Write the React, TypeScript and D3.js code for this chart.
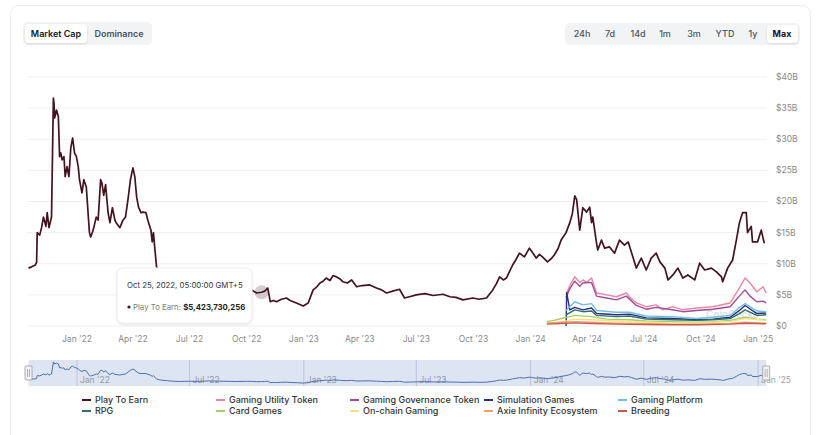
import React from 'react';
import * as d3 from 'd3';

type Pt = [string, number];

// ---------- DATA (values in $ billions) ----------
const viewTabs = ['Market Cap', 'Dominance'];
const timeRanges = ['24h', '7d', '14d', '1m', '3m', 'YTD', '1y', 'Max'];
const xTickDates = [
  '2022-01-01', '2022-04-01', '2022-07-01', '2022-10-01',
  '2023-01-01', '2023-04-01', '2023-07-01', '2023-10-01',
  '2024-01-01', '2024-04-01', '2024-07-01', '2024-10-01', '2025-01-01',
];
const navTickDates = ['2022-01-01', '2022-07-01', '2023-01-01', '2023-07-01', '2024-01-01', '2024-07-01', '2025-01-01'];
const yTicks = [0, 5, 10, 15, 20, 25, 30, 35, 40];

const playToEarn: Pt[] = [
  ['2021-10-15', 9.3], ['2021-10-20', 9.5], ['2021-10-26', 9.8], ['2021-10-28', 10.2], ['2021-10-29', 15.0],
  ['2021-11-02', 14.6], ['2021-11-05', 15.8], ['2021-11-08', 17.5], ['2021-11-12', 16.0], ['2021-11-14', 18.2],
  ['2021-11-17', 15.8], ['2021-11-21', 17.5], ['2021-11-24', 36.6], ['2021-11-25', 35.8], ['2021-11-26', 33.4],
  ['2021-11-29', 34.7], ['2021-12-02', 33.6], ['2021-12-04', 27.2], ['2021-12-06', 27.8], ['2021-12-08', 26.7],
  ['2021-12-11', 27.2], ['2021-12-13', 24.0], ['2021-12-16', 25.6], ['2021-12-19', 24.0], ['2021-12-22', 28.6],
  ['2021-12-25', 30.2], ['2021-12-28', 27.8], ['2021-12-31', 27.2], ['2022-01-03', 25.6], ['2022-01-05', 23.5],
  ['2022-01-09', 21.4], ['2022-01-12', 23.5], ['2022-01-16', 22.3], ['2022-01-21', 15.0], ['2022-01-23', 14.3],
  ['2022-01-27', 15.4], ['2022-02-01', 17.5], ['2022-02-04', 17.0], ['2022-02-08', 23.5], ['2022-02-10', 23.0],
  ['2022-02-13', 21.0], ['2022-02-16', 22.7], ['2022-02-20', 18.2], ['2022-02-23', 16.6], ['2022-02-27', 19.0],
  ['2022-03-03', 17.0], ['2022-03-05', 16.6], ['2022-03-11', 15.8], ['2022-03-16', 17.0], ['2022-03-20', 17.5],
  ['2022-03-24', 20.3], ['2022-03-28', 23.5], ['2022-04-01', 25.4], ['2022-04-04', 24.0], ['2022-04-07', 20.7],
  ['2022-04-10', 19.1], ['2022-04-14', 18.2], ['2022-04-17', 18.3], ['2022-04-22', 18.2], ['2022-04-25', 17.0],
  ['2022-04-30', 15.4], ['2022-05-02', 13.5], ['2022-05-04', 15.0], ['2022-05-06', 12.7], ['2022-05-09', 9.5],
  ['2022-05-15', 8.0], ['2022-05-25', 7.0], ['2022-06-05', 6.0], ['2022-06-15', 5.6], ['2022-07-01', 6.0],
  ['2022-07-15', 5.8], ['2022-08-01', 6.5], ['2022-08-15', 6.2], ['2022-09-01', 5.9], ['2022-09-15', 5.6],
  ['2022-10-01', 5.8], ['2022-10-09', 5.8], ['2022-10-17', 5.3], ['2022-10-25', 5.423730256], ['2022-10-30', 5.6],
  ['2022-11-04', 6.1], ['2022-11-08', 3.9], ['2022-11-13', 4.1], ['2022-11-18', 3.9], ['2022-11-26', 4.3],
  ['2022-12-04', 4.5], ['2022-12-10', 4.1], ['2022-12-15', 3.9], ['2022-12-22', 3.6], ['2022-12-31', 3.2],
  ['2023-01-08', 3.7], ['2023-01-16', 5.8], ['2023-01-22', 6.3], ['2023-01-27', 6.9], ['2023-02-01', 7.2],
  ['2023-02-06', 7.7], ['2023-02-12', 7.3], ['2023-02-17', 8.1], ['2023-02-22', 7.9], ['2023-03-01', 7.5],
  ['2023-03-05', 7.1], ['2023-03-12', 6.9], ['2023-03-19', 7.4], ['2023-03-27', 6.3], ['2023-04-05', 6.5],
  ['2023-04-17', 6.6], ['2023-04-28', 6.1], ['2023-05-06', 5.8], ['2023-05-14', 5.3], ['2023-05-24', 5.6],
  ['2023-06-04', 5.9], ['2023-06-12', 4.5], ['2023-06-20', 4.7], ['2023-07-01', 5.0], ['2023-07-15', 5.2],
  ['2023-07-28', 4.9], ['2023-08-13', 5.1], ['2023-08-24', 4.7], ['2023-09-03', 4.6], ['2023-09-14', 4.2],
  ['2023-09-30', 4.5], ['2023-10-10', 4.3], ['2023-10-22', 4.5], ['2023-11-01', 5.8], ['2023-11-07', 6.8],
  ['2023-11-12', 7.9], ['2023-11-18', 7.4], ['2023-11-23', 7.7], ['2023-12-03', 9.8], ['2023-12-08', 10.6],
  ['2023-12-14', 11.7], ['2023-12-22', 11.1], ['2023-12-30', 12.5], ['2024-01-04', 11.8], ['2024-01-10', 10.9],
  ['2024-01-15', 11.5], ['2024-01-20', 11.1], ['2024-01-28', 10.3], ['2024-02-03', 10.8], ['2024-02-08', 11.4],
  ['2024-02-14', 12.4], ['2024-02-19', 13.8], ['2024-02-27', 15.0], ['2024-03-04', 16.6], ['2024-03-08', 18.0],
  ['2024-03-12', 20.9], ['2024-03-15', 20.3], ['2024-03-20', 15.4], ['2024-03-25', 19.0], ['2024-03-31', 18.3],
  ['2024-04-05', 19.1], ['2024-04-08', 16.6], ['2024-04-10', 17.5], ['2024-04-16', 13.3], ['2024-04-18', 12.2],
  ['2024-04-24', 13.8], ['2024-04-29', 12.5], ['2024-05-07', 12.7], ['2024-05-15', 11.7], ['2024-05-23', 13.8],
  ['2024-05-31', 13.0], ['2024-06-06', 13.5], ['2024-06-11', 11.9], ['2024-06-19', 9.3], ['2024-06-27', 10.9],
  ['2024-07-05', 9.0], ['2024-07-13', 10.9], ['2024-07-21', 11.7], ['2024-07-27', 10.3], ['2024-08-04', 9.3],
  ['2024-08-09', 7.4], ['2024-08-17', 8.2], ['2024-08-25', 9.3], ['2024-09-02', 7.7], ['2024-09-10', 8.2],
  ['2024-09-21', 7.4], ['2024-09-29', 10.1], ['2024-10-07', 9.0], ['2024-10-18', 9.3], ['2024-10-26', 8.7],
  ['2024-11-03', 7.9], ['2024-11-05', 7.1], ['2024-11-13', 9.3], ['2024-11-21', 10.6], ['2024-11-27', 13.8],
  ['2024-12-02', 16.6], ['2024-12-07', 18.2], ['2024-12-13', 18.2], ['2024-12-15', 15.0], ['2024-12-21', 16.0],
  ['2024-12-23', 13.5], ['2024-12-31', 13.5], ['2025-01-06', 15.4], ['2025-01-11', 13.3],
];

const gamingUtilityToken: Pt[] = [
  ['2024-02-27', 5.0], ['2024-03-04', 6.5], ['2024-03-12', 7.9], ['2024-03-20', 7.0], ['2024-03-25', 7.4],
  ['2024-03-31', 7.0], ['2024-04-08', 7.7], ['2024-04-16', 5.3], ['2024-05-02', 5.0], ['2024-05-18', 4.7],
  ['2024-06-03', 5.3], ['2024-06-08', 4.7], ['2024-06-19', 3.7], ['2024-07-05', 3.1], ['2024-07-21', 3.4],
  ['2024-07-31', 2.6], ['2024-08-16', 3.1], ['2024-09-02', 2.6], ['2024-09-24', 2.9], ['2024-10-20', 3.1],
  ['2024-11-17', 3.7], ['2024-11-30', 5.8], ['2024-12-11', 7.7], ['2024-12-19', 6.9], ['2024-12-30', 5.5],
  ['2025-01-09', 6.3], ['2025-01-14', 5.3],
];
const gamingGovernanceToken: Pt[] = [
  ['2024-02-27', 4.6], ['2024-03-04', 6.0], ['2024-03-12', 7.2], ['2024-03-20', 6.4], ['2024-03-25', 6.9],
  ['2024-04-08', 7.0], ['2024-04-16', 4.8], ['2024-05-02', 4.5], ['2024-05-18', 4.2], ['2024-06-03', 4.8],
  ['2024-06-19', 3.3], ['2024-07-05', 2.7], ['2024-07-21', 3.0], ['2024-08-16', 2.6], ['2024-09-02', 2.3],
  ['2024-09-24', 2.5], ['2024-10-20', 2.7], ['2024-11-17', 3.1], ['2024-11-30', 4.6], ['2024-12-11', 5.8],
  ['2024-12-19', 4.8], ['2024-12-30', 3.9], ['2025-01-09', 4.0], ['2025-01-14', 3.7],
];
const simulationGames: Pt[] = [
  ['2024-02-27', 0], ['2024-02-28', 5.4], ['2024-03-04', 2.6], ['2024-03-12', 3.0], ['2024-03-25', 2.6],
  ['2024-04-08', 2.9], ['2024-04-16', 2.0], ['2024-05-18', 1.8], ['2024-06-08', 1.9], ['2024-07-05', 1.3],
  ['2024-08-16', 1.2], ['2024-09-24', 1.0], ['2024-10-20', 1.1], ['2024-11-17', 1.4], ['2024-12-02', 2.5],
  ['2024-12-11', 3.3], ['2024-12-30', 2.0], ['2025-01-14', 2.1],
];
const gamingPlatform: Pt[] = [
  ['2024-02-27', 2.5], ['2024-03-12', 3.9], ['2024-03-25', 3.4], ['2024-04-08', 3.6], ['2024-04-16', 2.5],
  ['2024-05-18', 2.2], ['2024-06-08', 2.2], ['2024-07-05', 1.6], ['2024-08-16', 1.5], ['2024-09-24', 1.2],
  ['2024-10-20', 1.4], ['2024-11-17', 1.7], ['2024-12-02', 3.0], ['2024-12-11', 3.6], ['2024-12-30', 2.4],
  ['2025-01-14', 2.3],
];
const rpg: Pt[] = [
  ['2024-02-27', 1.8], ['2024-03-12', 2.6], ['2024-03-25', 2.3], ['2024-04-08', 2.4], ['2024-04-16', 1.7],
  ['2024-05-18', 1.5], ['2024-06-08', 1.6], ['2024-07-05', 1.1], ['2024-08-16', 1.0], ['2024-09-24', 0.9],
  ['2024-10-20', 1.0], ['2024-11-17', 1.2], ['2024-12-02', 2.0], ['2024-12-11', 2.6], ['2024-12-30', 1.7],
  ['2025-01-14', 1.8],
];
const cardGames: Pt[] = [
  ['2024-01-27', 0.7], ['2024-02-08', 0.9], ['2024-02-19', 1.2], ['2024-03-04', 1.5], ['2024-03-12', 1.7],
  ['2024-04-08', 1.5], ['2024-05-02', 1.1], ['2024-06-08', 1.0], ['2024-07-05', 0.8], ['2024-08-16', 0.7],
  ['2024-09-24', 0.6], ['2024-10-20', 0.7], ['2024-11-17', 0.9], ['2024-12-11', 1.4], ['2024-12-30', 1.1],
  ['2025-01-14', 1.0],
];
const onChainGaming: Pt[] = [
  ['2024-01-27', 0.4], ['2024-02-19', 0.6], ['2024-03-12', 1.1], ['2024-04-08', 1.0], ['2024-05-18', 0.8],
  ['2024-07-05', 0.6], ['2024-08-16', 0.5], ['2024-09-24', 0.5], ['2024-11-17', 0.7], ['2024-12-11', 1.2],
  ['2025-01-14', 0.9],
];
const axieInfinityEcosystem: Pt[] = [
  ['2024-01-27', 0.5], ['2024-02-19', 0.6], ['2024-03-12', 0.7], ['2024-04-08', 0.6], ['2024-05-18', 0.45],
  ['2024-07-05', 0.35], ['2024-08-16', 0.3], ['2024-09-24', 0.3], ['2024-11-17', 0.4], ['2024-12-11', 0.6],
  ['2025-01-14', 0.45],
];
const breeding: Pt[] = [
  ['2024-01-27', 0.3], ['2024-02-19', 0.4], ['2024-03-12', 0.5], ['2024-04-08', 0.4], ['2024-05-18', 0.3],
  ['2024-07-05', 0.25], ['2024-08-16', 0.2], ['2024-09-24', 0.2], ['2024-11-17', 0.3], ['2024-12-11', 0.45],
  ['2025-01-14', 0.35],
];

const seriesNames = [
  'Play To Earn', 'Gaming Utility Token', 'Gaming Governance Token', 'Simulation Games', 'Gaming Platform',
  'RPG', 'Card Games', 'On-chain Gaming', 'Axie Infinity Ecosystem', 'Breeding',
];
const seriesData = [
  playToEarn, gamingUtilityToken, gamingGovernanceToken, simulationGames, gamingPlatform,
  rpg, cardGames, onChainGaming, axieInfinityEcosystem, breeding,
];
const seriesColors = [
  '#43131f', '#e8879f', '#9e4a9f', '#2b2f7e', '#72bde6',
  '#2e6e6c', '#a3cf62', '#f4e283', '#f2a26c', '#c65a4f',
];

const tooltipDate = '2022-10-25';
const tooltipLabel = 'Oct 25, 2022, 05:00:00 GMT+5';

// ---------- LAYOUT ----------
const W = 825;
const H = 435;
const parse = d3.utcParse('%Y-%m-%d');
const FONT = 'Inter, "Noto Sans", sans-serif';

export default function App() {
  const x = d3.scaleUtc()
    .domain([parse('2022-01-01')!, parse('2025-01-01')!])
    .range([77, 758.1]);
  const y = d3.scaleLinear().domain([0, 40]).range([326, 77]);
  const fmtTick = d3.utcFormat("%b '%y");

  const line = d3.line<Pt>()
    .x((d) => x(parse(d[0])!))
    .y((d) => y(d[1]));

  const navExtent = d3.extent(playToEarn, (d) => d[1]) as [number, number];
  const yNav = d3.scaleLinear().domain(navExtent).range([383, 362]);
  const navLine = d3.line<Pt>()
    .x((d) => x(parse(d[0])!))
    .y((d) => yNav(d[1]));

  const allDates = seriesData.flat().map((d) => parse(d[0])!);
  const [dMin, dMax] = d3.extent(allDates) as [Date, Date];
  const navX0 = x(dMin);
  const navX1 = x(dMax);

  const tipPt = playToEarn.find((d) => d[0] === tooltipDate)!;
  const tipX = x(parse(tipPt[0])!);
  const tipY = y(tipPt[1]);
  const tipValue = d3.format('$,.0f')(Math.round(tipPt[1] * 1e9));

  const btnCenters = [582, 610, 638, 665, 694, 725, 753, 782];
  const legendCols = [82, 216, 350, 484, 618];
  const legendRows = [400, 411];

  return (
    <svg width={W} height={H} style={{ position: 'absolute', left: 0, top: 0, fontFamily: FONT }}>
      <defs>
        <filter id="sh" x="-20%" y="-20%" width="140%" height="140%">
          <feDropShadow dx="0" dy="1" stdDeviation="1.2" floodColor="#000" floodOpacity="0.12" />
        </filter>
        <clipPath id="plot">
          <rect x={20} y={60} width={750} height={275} />
        </clipPath>
      </defs>
      <rect x={0} y={0} width={W} height={H} fill="#fff" />
      <rect x={10.5} y={5.5} width={800} height={460} rx={8} fill="#fff" stroke="#ebebeb" />

      {/* view tabs */}
      <rect x={23} y={22} width={129} height={23} rx={5} fill="#f2f3f5" />
      <rect x={25} y={24} width={62} height={19} rx={4} fill="#fff" filter="url(#sh)" />
      {viewTabs.map((t, i) => (
        <text key={t} x={i === 0 ? 56 : 119} y={34} dy="0.35em" textAnchor="middle" fontSize={9}
          fontWeight={600} fill={i === 0 ? '#111827' : '#4b5563'}>{t}</text>
      ))}

      {/* time range buttons */}
      <rect x={565} y={23} width={235} height={22} rx={5} fill="#f2f3f5" />
      <rect x={767} y={25} width={31} height={18} rx={4} fill="#fff" filter="url(#sh)" />
      {timeRanges.map((t, i) => (
        <text key={t} x={btnCenters[i]} y={34} dy="0.35em" textAnchor="middle" fontSize={9}
          fontWeight={t === 'Max' ? 700 : 500} fill={t === 'Max' ? '#111827' : '#4b5563'}>{t}</text>
      ))}

      {/* grid + y labels */}
      {yTicks.map((v) => (
        <g key={v}>
          <line x1={27} x2={767} y1={y(v)} y2={y(v)} stroke="#efefef" strokeWidth={1} />
          <text x={776} y={y(v)} dy="0.35em" fontSize={8.5} fill="#8a8a8a">
            {v === 0 ? '$0' : `$${v}B`}
          </text>
        </g>
      ))}

      {/* x labels */}
      {xTickDates.map((d) => (
        <text key={d} x={x(parse(d)!)} y={339} dy="0.35em" textAnchor="middle" fontSize={8.5} fill="#8a8a8a">
          {fmtTick(parse(d)!)}
        </text>
      ))}

      {/* watermark */}
      <text x={706} y={314} dy="0.35em" fontSize={10} fontWeight={600} fill="#dedede">CoinGecko</text>

      {/* series */}
      <g clipPath="url(#plot)">
        {seriesData.map((s, i) => (
          <path key={seriesNames[i]} d={line(s) || ''} fill="none" stroke={seriesColors[i]}
            strokeWidth={i === 0 ? 1.7 : 1.4} strokeLinejoin="round" />
        ))}
      </g>

      {/* hover halo */}
      <circle cx={tipX} cy={tipY} r={7} fill={seriesColors[0]} fillOpacity={0.22} />

      {/* tooltip */}
      <g filter="url(#sh)">
        <rect x={117} y={268} width={135} height={55} rx={6} fill="#fff" stroke="#ececec" />
      </g>
      <text x={127} y={285} dy="0.35em" fontSize={7.8} fill="#333">{tooltipLabel}</text>
      <circle cx={129} cy={307} r={1.6} fill={seriesColors[0]} />
      <text x={133} y={307} dy="0.35em" fontSize={7.8}>
        <tspan fill="#7a7a7a">{seriesNames[0]}: </tspan>
        <tspan fill="#222" fontWeight={700}>{tipValue}</tspan>
      </text>

      {/* navigator */}
      {navTickDates.map((d) => (
        <g key={d}>
          <line x1={x(parse(d)!)} x2={x(parse(d)!)} y1={360} y2={386} stroke="#d3d9e6" />
          <text x={x(parse(d)!) + 3} y={380} dy="0.35em" fontSize={8.5} fill="#a0a0a0">{fmtTick(parse(d)!)}</text>
        </g>
      ))}
      <rect x={navX0} y={360} width={navX1 - navX0} height={26} fill="rgba(102,133,194,0.22)" />
      <path d={navLine(playToEarn) || ''} fill="none" stroke="#4f6fae" strokeWidth={1} />
      {[navX0, navX1].map((hx, i) => (
        <g key={i}>
          <rect x={hx - 3.5} y={366} width={7} height={14} rx={1} fill="#f2f2f2" stroke="#999" strokeWidth={0.8} />
          <line x1={hx - 1} x2={hx - 1} y1={369} y2={377} stroke="#999" strokeWidth={0.7} />
          <line x1={hx + 1} x2={hx + 1} y1={369} y2={377} stroke="#999" strokeWidth={0.7} />
        </g>
      ))}

      {/* legend */}
      {seriesNames.map((n, i) => {
        const cx = legendCols[i % 5];
        const cy = legendRows[Math.floor(i / 5)];
        return (
          <g key={n}>
            <line x1={cx} x2={cx + 9} y1={cy} y2={cy} stroke={seriesColors[i]} strokeWidth={2} />
            <text x={cx + 13} y={cy} dy="0.35em" fontSize={9} fontWeight={500} fill="#333">{n}</text>
          </g>
        );
      })}
    </svg>
  );
}
